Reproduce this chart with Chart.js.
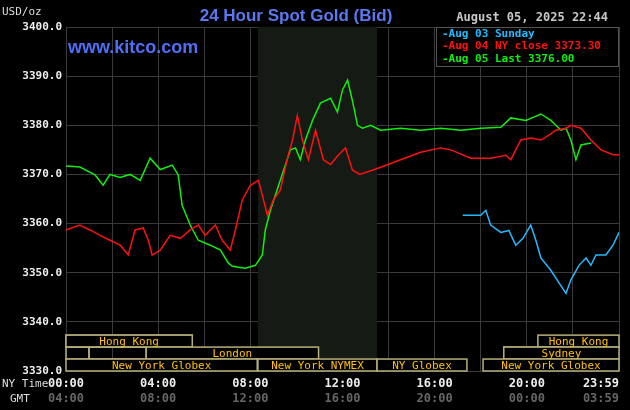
<!DOCTYPE html>
<html><head><meta charset="utf-8">
<script src="https://cdn.jsdelivr.net/npm/chart.js@4"></script>
<style>html,body{margin:0;background:#000;}canvas{display:block}</style>
</head><body>
<div style="width:630px;height:410px"><canvas id="c"></canvas></div>
<script>
const greenX=[0,0.6,1.26,1.61,1.91,2.35,2.78,3.22,3.43,3.65,4.09,4.61,4.87,5.04,5.39,5.74,6.26,6.7,7.04,7.22,7.78,8.22,8.52,8.65,8.87,9.3,9.74,9.96,10.17,10.39,10.7,11.04,11.48,11.78,12,12.22,12.43,12.65,12.87,13.22,13.65,14.52,15.39,16.26,17.13,18,18.87,19.3,19.96,20.61,21.04,21.48,21.7,21.91,22.13,22.35,22.78];
const greenY=[3371.7,3371.5,3369.9,3367.8,3370,3369.4,3370,3368.8,3371,3373.3,3371,3371.9,3369.9,3363.7,3359.7,3356.6,3355.6,3354.6,3352,3351.3,3350.9,3351.5,3353.6,3358.7,3362.7,3368.8,3375,3375.4,3373,3377,3381,3384.5,3385.5,3382.7,3387.2,3389.2,3385,3380,3379.4,3380,3379,3379.4,3379,3379.4,3379,3379.4,3379.6,3381.5,3381,3382.3,3381,3379,3379.4,3377,3373,3376,3376.4];
const redX=[0,0.6,1.04,1.48,1.91,2.35,2.7,3,3.35,3.57,3.74,4.09,4.52,4.96,5.39,5.74,6.04,6.48,6.78,7.13,7.35,7.65,8,8.35,8.52,8.74,9,9.3,9.61,9.83,10.04,10.26,10.52,10.83,11.17,11.48,11.83,12.13,12.43,12.74,13.39,14.52,15.39,16.26,16.7,17.57,18.43,19.09,19.3,19.74,20.17,20.61,20.96,21.26,21.7,21.91,22.35,22.78,23.22,23.74,24];
const redY=[3358.7,3359.7,3358.7,3357.6,3356.6,3355.6,3353.6,3358.7,3359.1,3356.6,3353.6,3354.6,3357.6,3357,3358.7,3359.7,3357.6,3359.7,3356.6,3354.6,3358.7,3364.8,3367.8,3368.8,3365.8,3361.7,3364.8,3366.8,3373.3,3377,3382,3377,3373,3379,3373,3372,3374,3375.4,3370.9,3370,3371,3373,3374.5,3375.4,3375,3373.3,3373.3,3373.9,3373,3377,3377.4,3377,3378,3379,3379.4,3380,3379.4,3377,3375,3374,3374,3372.5,3371.9];
const cyanX=[17.22,18,18.22,18.43,18.87,19.22,19.52,19.83,20.17,20.39,20.61,21.04,21.39,21.7,21.91,22.26,22.57,22.78,23,23.43,23.74,24];
const cyanY=[3361.7,3361.7,3362.7,3359.7,3358.2,3358.6,3355.6,3357,3359.7,3356.6,3353,3350.5,3348,3345.8,3348.5,3351.5,3353,3351.5,3353.6,3353.6,3355.6,3358.2];
const yTicks=[3330,3340,3350,3360,3370,3380,3390,3400];
const nyLabels=["00:00","04:00","08:00","12:00","16:00","20:00","23:59"];
const gmtLabels=["04:00","08:00","12:00","16:00","20:00","00:00","03:59"];
const labelHours=[0,4,8,12,16,20,24];
const legendNames=["Aug 03 Sunday","Aug 04 NY close 3373.30","Aug 05 Last 3376.00"];
// sessions: [row, start, end, label]
const sessions=[[0,0,4,""],[0,4,5.48,""],[0,0,5.48,"Hong Kong"],[0,20.48,24,"Hong Kong"],
[1,0,1,""],[1,1,3.48,""],[1,3.48,10.96,"London"],[1,19,21.48,""],[1,19,24,"Sydney"],
[2,0,8.3,"New York Globex"],[2,8.33,13.5,"New York NYMEX"],[2,13.5,17.4,"NY Globex"],[2,18.1,24,"New York Globex"]];
const nymex=[8.33,13.5];
const pts=(xs,ys)=>xs.map((x,i)=>({x,y:ys[i]}));
const mono='"DejaVu Sans Mono", monospace';
const deco={id:'deco',
beforeDatasetsDraw(ch){const c=ch.ctx,x=ch.scales.x,a=ch.chartArea;c.save();c.fillStyle='#161a14';
 c.fillRect(x.getPixelForValue(nymex[0]),a.top,x.getPixelForValue(nymex[1])-x.getPixelForValue(nymex[0]),a.bottom-a.top);c.restore();},
afterDatasetsDraw(ch){const c=ch.ctx,x=ch.scales.x,y=ch.scales.y,a=ch.chartArea;c.save();
 const rowH=(a.bottom-y.getPixelForValue(3337.3))/3;
 sessions.forEach(s=>{const top=a.bottom-(3-s[0])*rowH;const x0=x.getPixelForValue(s[1]),x1=x.getPixelForValue(s[2]);
  c.fillStyle='#000';if(s[3]){c.fillRect(x0,top,x1-x0,rowH);}
  c.strokeStyle='#b8b07a';c.lineWidth=1.5;c.strokeRect(x0,top,x1-x0,rowH);});
 sessions.forEach(s=>{if(!s[3])return;const top=a.bottom-(3-s[0])*rowH;const x0=x.getPixelForValue(s[1]),x1=x.getPixelForValue(s[2]);
  c.fillStyle='#ffc000';c.font='11px '+mono;c.textAlign='center';c.textBaseline='middle';c.fillText(s[3],(x0+x1)/2,top+rowH/2+1);});
 // legend
 c.fillStyle='#000';c.fillRect(436,27,183,39);c.strokeStyle='#555';c.lineWidth=1;c.strokeRect(436.5,27.5,182,39);
 const cols=['#22bbff','#ff1010','#10ee10'];c.font='bold 11px '+mono;c.textAlign='left';c.textBaseline='middle';
 legendNames.forEach((n,i)=>{c.fillStyle=cols[i];c.fillText('-'+n,442,34+i*12.5);});
 // texts
 c.fillStyle='#ddd';c.font='11px '+mono;c.fillText('USD/oz',2,12);
 c.fillStyle='#c8c8c8';c.font='bold 12px '+mono;c.textAlign='right';c.fillText('August 05, 2025 22:44',608,18);
 c.textAlign='center';c.fillStyle='#5a78f0';c.font='bold 17px "Liberation Sans", Arial, sans-serif';c.fillText('24 Hour Spot Gold (Bid)',296,16);
 c.textAlign='left';c.fillStyle='#4f6ff5';c.font='bold 18px "Liberation Sans", Arial, sans-serif';c.fillText('www.kitco.com',68,48);
 c.font='11px '+mono;c.fillStyle='#ddd';c.fillText('NY Time',2,384);c.fillText('GMT',10,399);
 labelHours.forEach((h,i)=>{const px=x.getPixelForValue(h);c.textAlign=i===6?'right':'center';const xx=i===6?a.right:px;
  c.font='bold 12px '+mono;c.fillStyle='#eee';c.fillText(nyLabels[i],xx,384);c.fillStyle='#666';c.fillText(gmtLabels[i],xx,399);});
 c.restore();}};
new Chart(document.getElementById('c'),{type:'line',
data:{datasets:[
{data:pts(cyanX,cyanY),borderColor:'#22bbff'},
{data:pts(redX,redY),borderColor:'#ff1010'},
{data:pts(greenX,greenY),borderColor:'#10ee10'}]},
options:{responsive:true,maintainAspectRatio:false,animation:false,
 elements:{point:{radius:0},line:{borderWidth:1.5,tension:0}},
 plugins:{legend:{display:false},tooltip:{enabled:false}},
 layout:{padding:{top:27,right:11,left:0,bottom:0}},
 scales:{
  x:{type:'linear',min:0,max:24,ticks:{stepSize:2,display:false},grid:{color:'#3a3a3a',drawTicks:false},border:{display:false},afterFit(s){s.height=39;}},
  y:{min:3330,max:3400,afterBuildTicks(s){s.ticks=yTicks.map(v=>({value:v}));},
   ticks:{color:'#eee',font:{family:mono,size:11,weight:'bold'},padding:4,callback:v=>v.toFixed(1)},
   grid:{color:'#3a3a3a',drawTicks:false},border:{display:false},afterFit(s){s.width=66;}}
 }},plugins:[deco]});
</script></body></html>
